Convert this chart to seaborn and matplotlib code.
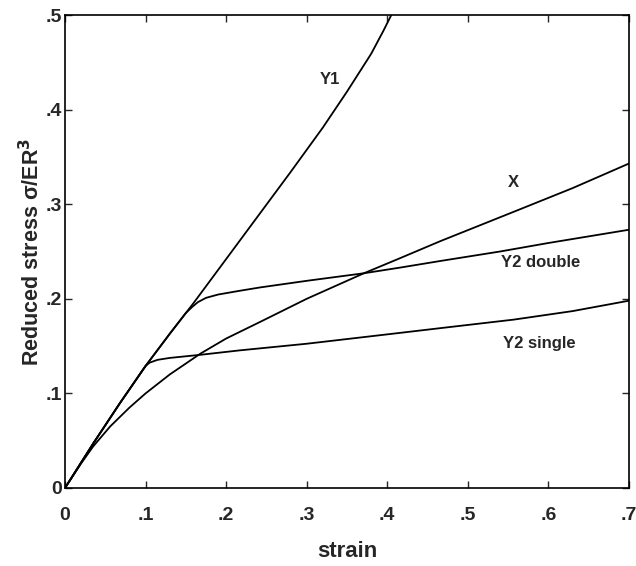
import matplotlib
matplotlib.use("Agg")
import matplotlib.pyplot as plt
import seaborn as sns
import pandas as pd

# ---- data ----
y1_x = [0, 0.035, 0.068, 0.1, 0.13, 0.16, 0.2, 0.24, 0.28, 0.32, 0.35, 0.38, 0.395, 0.405]
y1_y = [0, 0.047, 0.0895, 0.129, 0.163, 0.196, 0.242, 0.288, 0.334, 0.381, 0.419, 0.459,
        0.483, 0.5]

x_x = [0, 0.02, 0.035, 0.056, 0.08, 0.1, 0.13, 0.168, 0.2, 0.242, 0.3, 0.371, 0.416,
       0.466, 0.557, 0.63, 0.7]
x_y = [0, 0.026, 0.044, 0.065, 0.085, 0.100, 0.120, 0.142, 0.158, 0.1755, 0.200, 0.227,
       0.243, 0.261, 0.292, 0.317, 0.343]

y2d_x = [0, 0.035, 0.068, 0.1, 0.13, 0.15, 0.158, 0.165, 0.175, 0.19, 0.217, 0.242, 0.3,
         0.371, 0.416, 0.466, 0.54, 0.6, 0.7]
y2d_y = [0, 0.047, 0.0895, 0.129, 0.163, 0.185, 0.1915, 0.1965, 0.201, 0.2045, 0.2085,
         0.212, 0.219, 0.227, 0.233, 0.240, 0.250, 0.259, 0.273]

y2s_x = [0, 0.035, 0.068, 0.1, 0.105, 0.115, 0.13, 0.168, 0.217, 0.3, 0.416, 0.466, 0.557,
         0.63, 0.7]
y2s_y = [0, 0.047, 0.0895, 0.129, 0.1325, 0.1355, 0.1375, 0.1408, 0.1455, 0.1525, 0.164,
         0.169, 0.178, 0.187, 0.198]

curve_names = ["Y1", "X", "Y2 double", "Y2 single"]
label_x = [0.329, 0.556, 0.590, 0.589]
label_y = [0.432, 0.323, 0.2384, 0.1527]

x_ticks = [0, 0.1, 0.2, 0.3, 0.4, 0.5, 0.6, 0.7]
x_ticklabels = ["0", ".1", ".2", ".3", ".4", ".5", ".6", ".7"]
y_ticks = [0, 0.1, 0.2, 0.3, 0.4, 0.5]
y_ticklabels = ["0", ".1", ".2", ".3", ".4", ".5"]

frames = []
for name, xs, ys in zip(curve_names,
                        [y1_x, x_x, y2d_x, y2s_x],
                        [y1_y, x_y, y2d_y, y2s_y]):
    frames.append(pd.DataFrame({"strain": xs, "stress": ys, "curve": name}))
df = pd.concat(frames, ignore_index=True)

sns.set_style("ticks")
plt.rcParams["font.family"] = ["Liberation Sans", "DejaVu Sans"]
plt.rcParams["font.weight"] = "bold"

fig = plt.figure(figsize=(6.36, 5.66), dpi=100)
ax = fig.add_axes([65 / 636, 1 - 488 / 566, (629 - 65) / 636, (488 - 15) / 566])

for name in curve_names:
    sub = df[df["curve"] == name]
    sns.lineplot(data=sub, x="strain", y="stress", ax=ax, color="black",
                 linewidth=1.3, sort=False, estimator=None, legend=False)

for name, lx, ly in zip(curve_names, label_x, label_y):
    ax.text(lx, ly, name, ha="center", va="center", fontsize=12, fontweight="bold")

ax.set_xlim(0, 0.7)
ax.set_ylim(0, 0.5)
ax.set_xticks(x_ticks)
ax.set_xticklabels(x_ticklabels)
ax.set_yticks(y_ticks)
ax.set_yticklabels(y_ticklabels)
ax.tick_params(direction="in", length=5, width=1, top=True, right=True,
               labelsize=14)
ax.tick_params(axis="x", pad=14)
ax.tick_params(axis="y", pad=2)
for lab in ax.get_xticklabels() + ax.get_yticklabels():
    lab.set_fontweight("bold")
for s in ax.spines.values():
    s.set_linewidth(1.2)
    s.set_color("black")

ax.set_xlabel("strain", fontsize=16, fontweight="bold", labelpad=12)
ax.set_ylabel("Reduced stress σ/ER$^\\mathbf{3}$", fontsize=15.5, fontweight="bold", labelpad=1)

fig.savefig("out.png", dpi=100)
